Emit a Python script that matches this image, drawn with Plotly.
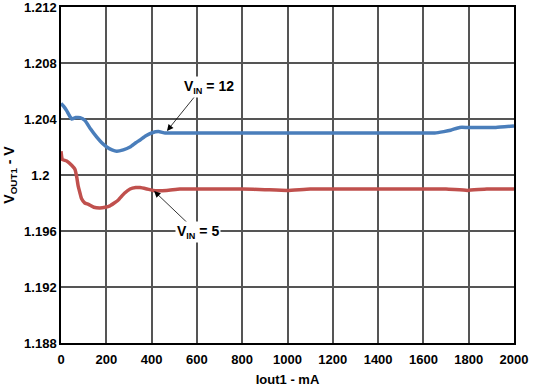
import plotly.graph_objects as go

# Data
iout_12 = [0, 12, 25, 47, 65, 84, 106, 130, 158, 180, 202, 225, 246, 275, 305, 330, 349, 375, 400, 430, 460, 520,
           700, 900, 1100, 1300, 1500, 1650, 1690, 1720, 1760, 1794, 1850, 1920, 2000]
vout_12 = [1.2051, 1.2049, 1.2046, 1.2040, 1.2041, 1.2041, 1.2039, 1.2033, 1.2027, 1.2023, 1.2020, 1.2018, 1.2017, 1.2018, 1.2020, 1.2023, 1.2025, 1.2028, 1.2030, 1.2031, 1.2030, 1.2030,
           1.2030, 1.2030, 1.2030, 1.2030, 1.2030, 1.2030, 1.2031, 1.2032, 1.2034, 1.2034, 1.2034, 1.2034, 1.2035]

iout_5 = [0, 3, 6, 25, 47, 62, 70, 76, 84, 91, 105, 121, 145, 172, 195, 216, 235, 252, 280, 305, 330, 349, 380, 407, 466, 525,
          650, 800, 900, 1000, 1100, 1250, 1400, 1600, 1700, 1794, 1880, 2000]
vout_5 = [1.2017, 1.2013, 1.2011, 1.2010, 1.2007, 1.2004, 1.1998, 1.1992, 1.1987, 1.1983, 1.1980, 1.1979, 1.1977, 1.19765, 1.1977, 1.1978, 1.1980, 1.1982, 1.1987, 1.1990, 1.1991, 1.1991, 1.1990, 1.1989, 1.1989, 1.1990,
          1.1990, 1.1990, 1.19895, 1.1989, 1.1990, 1.1990, 1.1990, 1.1990, 1.1990, 1.1989, 1.1990, 1.1990]

x_ticks = [0, 200, 400, 600, 800, 1000, 1200, 1400, 1600, 1800, 2000]
y_ticks = [1.188, 1.192, 1.196, 1.2, 1.204, 1.208, 1.212]
y_ticktext = ["1.188", "1.192", "1.196", "1.2\u2007", "1.204", "1.208", "1.212"]

FONT = "Liberation Sans, Arial, sans-serif"

fig = go.Figure()
fig.add_trace(go.Scatter(x=iout_12, y=vout_12, mode="lines", line=dict(color="#4a7ebb", width=3.5, shape="spline", smoothing=0.4),
                         showlegend=False, hoverinfo="skip"))
fig.add_trace(go.Scatter(x=iout_5, y=vout_5, mode="lines", line=dict(color="#c0504d", width=3.5, shape="spline", smoothing=0.4),
                         showlegend=False, hoverinfo="skip"))

# Arrows
fig.add_annotation(x=468, y=1.20315, ax=600, ay=1.2058, xref="x", yref="y", axref="x", ayref="y",
                   text="", showarrow=True, arrowhead=2, arrowsize=1.6, arrowwidth=0.8, arrowcolor="black")
fig.add_annotation(x=411, y=1.19885, ax=570, ay=1.1964, xref="x", yref="y", axref="x", ayref="y",
                   text="", showarrow=True, arrowhead=2, arrowsize=1.6, arrowwidth=0.8, arrowcolor="black")
# Labels
LBL = dict(family=FONT, size=14, color="black", weight="bold")
fig.add_annotation(x=655, y=1.2063, xref="x", yref="y",
                   text="V<span style='font-size:13px'><sub>IN</sub></span> = 12", showarrow=False,
                   font=LBL, bgcolor="white", borderpad=1)
fig.add_annotation(x=605, y=1.1959, xref="x", yref="y",
                   text="V<span style='font-size:13px'><sub>IN</sub></span> = 5", showarrow=False,
                   font=LBL, bgcolor="white", borderpad=1)

fig.update_xaxes(range=[0, 2000], tickvals=x_ticks, showgrid=True, gridcolor="#555555", gridwidth=1.6,
                 showline=True, linecolor="black", linewidth=1.5, mirror=True, zeroline=False, ticks="",
                 automargin=False, ticklabeloverflow="allow", ticklabelstandoff=4,
                 tickfont=dict(family=FONT, size=13, color="black", weight="bold"),
                 title=dict(text="Iout1 - mA", font=dict(family=FONT, size=13, color="black", weight="bold"), standoff=9))
fig.update_yaxes(range=[1.188, 1.212], tickvals=y_ticks, ticktext=y_ticktext, showgrid=True, gridcolor="#555555", gridwidth=1.6,
                 showline=True, linecolor="black", linewidth=1.5, mirror=True, zeroline=False, ticks="",
                 automargin=False, ticklabeloverflow="allow",
                 tickfont=dict(family=FONT, size=13, color="black", weight="bold"),
                 title=dict(text="V<sub>OUT1</sub> - V", font=dict(family=FONT, size=14, color="black", weight="bold"), standoff=6))

fig.update_layout(width=537, height=389, margin=dict(l=61, r=23, t=7, b=46),
                  plot_bgcolor="white", paper_bgcolor="white")

fig.write_html("out.html", config={"displayModeBar": False}, post_script="document.body.style.margin='0';")
